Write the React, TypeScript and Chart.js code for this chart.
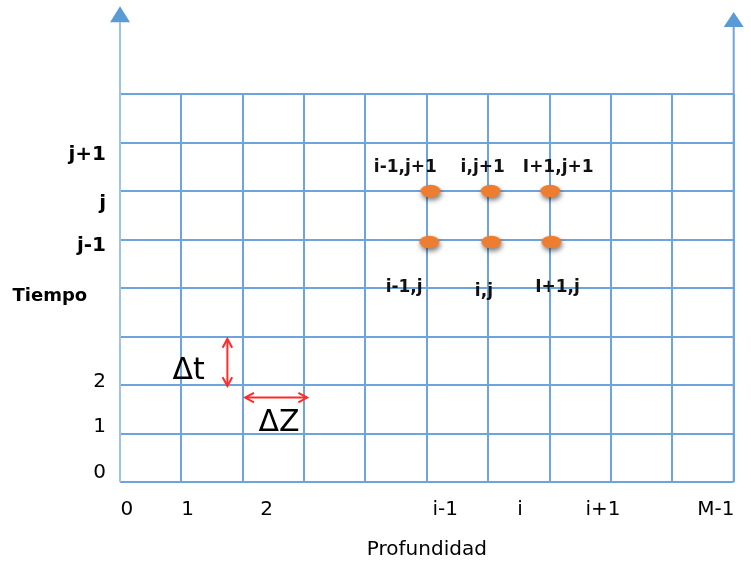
import React, { useEffect, useRef } from 'react';
import { Chart, registerables } from 'chart.js';

Chart.register(...registerables);

const W = 751;
const H = 562;

// Grid extent (cell indices)
const depthMin = 0;
const depthMax = 10;
const timeMin = 0;
const timeMax = 8;

// Axis tick labels and their positions in grid units
const depthTickLabels = ['0', '1', '2', 'i-1', 'i', 'i+1', 'M-1'];
const depthTickPos = [0.11, 1.1, 2.39, 5.3, 6.52, 7.87, 9.71];
const timeTickLabels = ['0', '1', '2', 'Tiempo   ', 'j-1', 'j', 'j+1'];
const timeTickPos = [0.18, 1.13, 2.07, 3.82, 4.86, 5.74, 6.74];
const timeTickBold = [false, false, false, true, true, true, true];

// Stencil nodes
const nodeX = [5.06, 6.04, 7.01, 5.04, 6.05, 7.03];
const nodeY = [6, 6, 6, 4.95, 4.95, 4.95];

// Node labels
const nodeLabels = ['i-1,j+1', 'i,j+1', 'I+1,j+1', 'i-1,j', 'i,j', 'I+1,j'];
const nodeLabelX = [4.65, 5.91, 7.14, 4.63, 5.93, 7.13];
const nodeLabelY = [6.48, 6.48, 6.48, 4.0, 3.93, 4.0];

// Step size annotations
const stepLabels = ['Δt', 'ΔZ'];
const stepLabelX = [1.12, 2.59];
const stepLabelY = [2.29, 1.21];

// Double arrows (start/end in grid units)
const dtArrowX = [1.75, 1.75];
const dtArrowY = [2.95, 1.98];
const dzArrowX = [2.04, 3.05];
const dzArrowY = [1.74, 1.74];

// Axis arrows
const axisX = [0, 10];
const axisBase = [9.48, 9.38];
const axisTip = [9.81, 9.69];

const FONT = '"DejaVu Sans", sans-serif';
const GRID = '#6DA4DD';

function makeNode(): HTMLCanvasElement {
  const c = document.createElement('canvas');
  c.width = 36;
  c.height = 30;
  const g = c.getContext('2d')!;
  g.shadowColor = 'rgba(0,0,0,0.5)';
  g.shadowBlur = 5;
  g.shadowOffsetX = 1;
  g.shadowOffsetY = 3;
  g.fillStyle = '#ED7D31';
  g.beginPath();
  g.ellipse(18, 15, 10, 6.3, 0, 0, Math.PI * 2);
  g.fill();
  return c;
}

function doubleArrow(ctx: CanvasRenderingContext2D, x1: number, y1: number, x2: number, y2: number) {
  ctx.beginPath();
  ctx.moveTo(x1, y1);
  ctx.lineTo(x2, y2);
  ctx.stroke();
  const head = (tx: number, ty: number, fx: number, fy: number) => {
    const a = Math.atan2(ty - fy, tx - fx);
    const L = 10;
    const s = 0.5;
    ctx.beginPath();
    ctx.moveTo(tx - L * Math.cos(a - s), ty - L * Math.sin(a - s));
    ctx.lineTo(tx, ty);
    ctx.lineTo(tx - L * Math.cos(a + s), ty - L * Math.sin(a + s));
    ctx.stroke();
  };
  head(x1, y1, x2, y2);
  head(x2, y2, x1, y1);
}

const overlay = {
  id: 'overlay',
  beforeDatasetsDraw(chart: any) {
    const { ctx, scales } = chart;
    const x = scales.x;
    const y = scales.y;
    ctx.save();
    axisX.forEach((v, i) => {
      const px = x.getPixelForValue(v);
      const y0 = y.getPixelForValue(timeMin);
      const yb = y.getPixelForValue(axisBase[i]);
      const yt = y.getPixelForValue(axisTip[i]);
      ctx.strokeStyle = i === 0 ? '#9EC3EA' : GRID;
      ctx.lineWidth = 2;
      ctx.beginPath();
      ctx.moveTo(px, y0);
      ctx.lineTo(px, yb);
      ctx.stroke();
      ctx.fillStyle = '#5B9BD5';
      ctx.beginPath();
      ctx.moveTo(px, yt);
      ctx.lineTo(px - 10, yb);
      ctx.lineTo(px + 10, yb);
      ctx.closePath();
      ctx.fill();
    });
    ctx.restore();
  },
  afterDatasetsDraw(chart: any) {
    const { ctx, scales } = chart;
    const x = scales.x;
    const y = scales.y;
    ctx.save();
    // red step arrows
    ctx.strokeStyle = '#FF2A2A';
    ctx.lineWidth = 2;
    doubleArrow(ctx, x.getPixelForValue(dtArrowX[0]), y.getPixelForValue(dtArrowY[0]),
      x.getPixelForValue(dtArrowX[1]), y.getPixelForValue(dtArrowY[1]));
    doubleArrow(ctx, x.getPixelForValue(dzArrowX[0]), y.getPixelForValue(dzArrowY[0]),
      x.getPixelForValue(dzArrowX[1]), y.getPixelForValue(dzArrowY[1]));
    // step labels
    ctx.fillStyle = '#000';
    ctx.textAlign = 'center';
    ctx.textBaseline = 'middle';
    ctx.font = `30px ${FONT}`;
    stepLabels.forEach((t, i) => {
      ctx.fillText(t, x.getPixelForValue(stepLabelX[i]), y.getPixelForValue(stepLabelY[i]));
    });
    // node labels
    ctx.font = `bold 17px ${FONT}`;
    ctx.fillStyle = '#111';
    nodeLabels.forEach((t, i) => {
      ctx.fillText(t, x.getPixelForValue(nodeLabelX[i]), y.getPixelForValue(nodeLabelY[i]));
    });
    ctx.restore();
  },
};

export default function App() {
  const ref = useRef<HTMLCanvasElement | null>(null);

  useEffect(() => {
    if (!ref.current) return;
    const nodeImg = makeNode();
    const chart = new Chart(ref.current, {
      type: 'scatter',
      data: {
        datasets: [
          {
            data: nodeX.map((v, i) => ({ x: v, y: nodeY[i] })),
            pointStyle: nodeImg as any,
            pointRadius: 10,
            showLine: false,
            clip: false as any,
          },
        ],
      },
      options: {
        responsive: false,
        animation: false,
        events: [],
        layout: { padding: { top: 94, right: 8, left: 0, bottom: 0 } },
        plugins: { legend: { display: false }, tooltip: { enabled: false } },
        scales: {
          x: {
            type: 'linear',
            position: 'bottom',
            min: depthMin,
            max: depthMax,
            ticks: { display: false, stepSize: 1 },
            grid: {
              color: (c: any) => (c.tick && c.tick.value === depthMin ? 'rgba(0,0,0,0)' : GRID),
              lineWidth: 2,
              drawTicks: false,
            },
            border: { display: false },
            afterFit: (s: any) => { s.height = 0; },
          },
          y: {
            type: 'linear',
            position: 'left',
            min: timeMin,
            max: timeMax,
            ticks: { display: false, stepSize: 1 },
            grid: { color: GRID, lineWidth: 2, drawTicks: false },
            border: { display: false },
            afterFit: (s: any) => { s.width = 0; },
          },
          xl: {
            type: 'linear',
            axis: 'x',
            position: 'bottom',
            min: depthMin,
            max: depthMax,
            grid: { display: false, drawTicks: false },
            border: { display: false },
            afterBuildTicks: (s: any) => { s.ticks = depthTickPos.map((v) => ({ value: v })); },
            ticks: {
              autoSkip: false,
              maxRotation: 0,
              minRotation: 0,
              padding: 16,
              color: '#000',
              font: { family: FONT, size: 20 },
              callback: (_v: any, i: number) => depthTickLabels[i],
            },
            title: {
              display: true,
              text: 'Profundidad',
              color: '#000',
              font: { family: FONT, size: 20 },
              padding: { top: 0, bottom: 0 },
            },
            afterFit: (s: any) => { s.height = 80; },
          },
          yl: {
            type: 'linear',
            axis: 'y',
            position: 'left',
            min: timeMin,
            max: timeMax,
            grid: { display: false, drawTicks: false },
            border: { display: false },
            afterBuildTicks: (s: any) => { s.ticks = timeTickPos.map((v) => ({ value: v })); },
            ticks: {
              autoSkip: false,
              padding: 14,
              color: '#000',
              font: (c: any) => {
                const i = c.index;
                if (i === 3) return { family: FONT, size: 18, weight: 'bold' };
                return { family: FONT, size: 20, weight: timeTickBold[i] ? 'bold' : 'normal' };
              },
              callback: (_v: any, i: number) => timeTickLabels[i],
            },
            afterFit: (s: any) => { s.width = 120; },
          },
        } as any,
      },
      plugins: [overlay],
    });
    return () => chart.destroy();
  }, []);

  return (
    <div style={{ position: 'absolute', left: 0, top: 0, width: W, height: H, background: '#fff' }}>
      <canvas ref={ref} width={W} height={H} />
    </div>
  );
}
